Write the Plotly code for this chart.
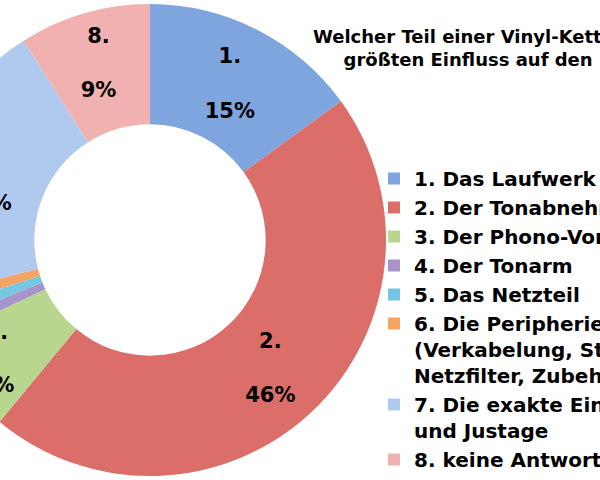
import plotly.graph_objects as go

# ---- data ----
legend_labels = [
    "1. Das Laufwerk",
    "2. Der Tonabnehmer",
    "3. Der Phono-Vorverstärker",
    "4. Der Tonarm",
    "5. Das Netzteil",
    "6. Die Peripherie<br>(Verkabelung, Steckdosen,<br>Netzfilter, Zubehör)",
    "7. Die exakte Einstellung<br>und Justage",
    "8. keine Antwort",
]
slice_numbers = ["1.", "2.", "3.", "4.", "5.", "6.", "7.", "8."]
shares_pct = [15, 46, 7, 1, 1, 1, 20, 9]
slice_colors = ["#7EA5DD", "#DC6E6A", "#B8D68D", "#A794CC",
                "#74C7DF", "#F6A463", "#B0CAEF", "#F1B1B0"]
title_text = "Welcher Teil einer Vinyl-Kette hat den<br>größten Einfluss auf den Klang?"

# ---- layout geometry (virtual canvas, shifted left in the page) ----
W, H = 940, 480
OX = 100  # how many px of the canvas lie left of the visible window

templates = ["%{text}<br><br>%{value}%" if v >= 5 else "" for v in shares_pct]

cx, cy, r = 150 + OX, 240, 236
fig = go.Figure(
    go.Pie(
        labels=legend_labels,
        values=shares_pct,
        text=slice_numbers,
        texttemplate=templates,
        textposition="inside",
        insidetextorientation="horizontal",
        textfont=dict(family="DejaVu Sans", size=21, color="black", weight="bold"),
        marker=dict(colors=slice_colors, line=dict(width=0)),
        hole=0.49,
        sort=False,
        direction="clockwise",
        rotation=0,
        domain=dict(x=[(cx - r) / W, (cx + r) / W], y=[(H - cy - r) / H, (H - cy + r) / H]),
        showlegend=True,
    )
)

fig.update_layout(
    width=W,
    height=H,
    margin=dict(l=0, r=0, t=0, b=0, autoexpand=False),
    paper_bgcolor="white",
    plot_bgcolor="white",
    font=dict(family="DejaVu Sans", color="black"),
    legend=dict(
        x=(374 + OX) / W,
        xanchor="left",
        y=1 - 159 / H,
        yanchor="top",
        valign="top",
        font=dict(family="DejaVu Sans", size=20, color="black", weight="bold"),
        bgcolor="rgba(0,0,0,0)",
    ),
    annotations=[
        dict(
            text=title_text,
            x=(505 + OX) / W,
            y=1 - 24 / H,
            xref="paper",
            yref="paper",
            xanchor="center",
            yanchor="top",
            align="center",
            showarrow=False,
            font=dict(family="DejaVu Sans", size=18, color="black", weight="bold"),
        )
    ],
)

post = (
    "var gd=document.getElementById('{plot_id}');"
    "document.documentElement.style.overflow='hidden';"
    "document.body.style.overflow='hidden';"
    "document.body.style.margin='0';"
    "gd.style.position='absolute';gd.style.left='-" + str(OX) + "px';gd.style.top='0px';"
)

fig.write_html("out.html", post_script=post)
